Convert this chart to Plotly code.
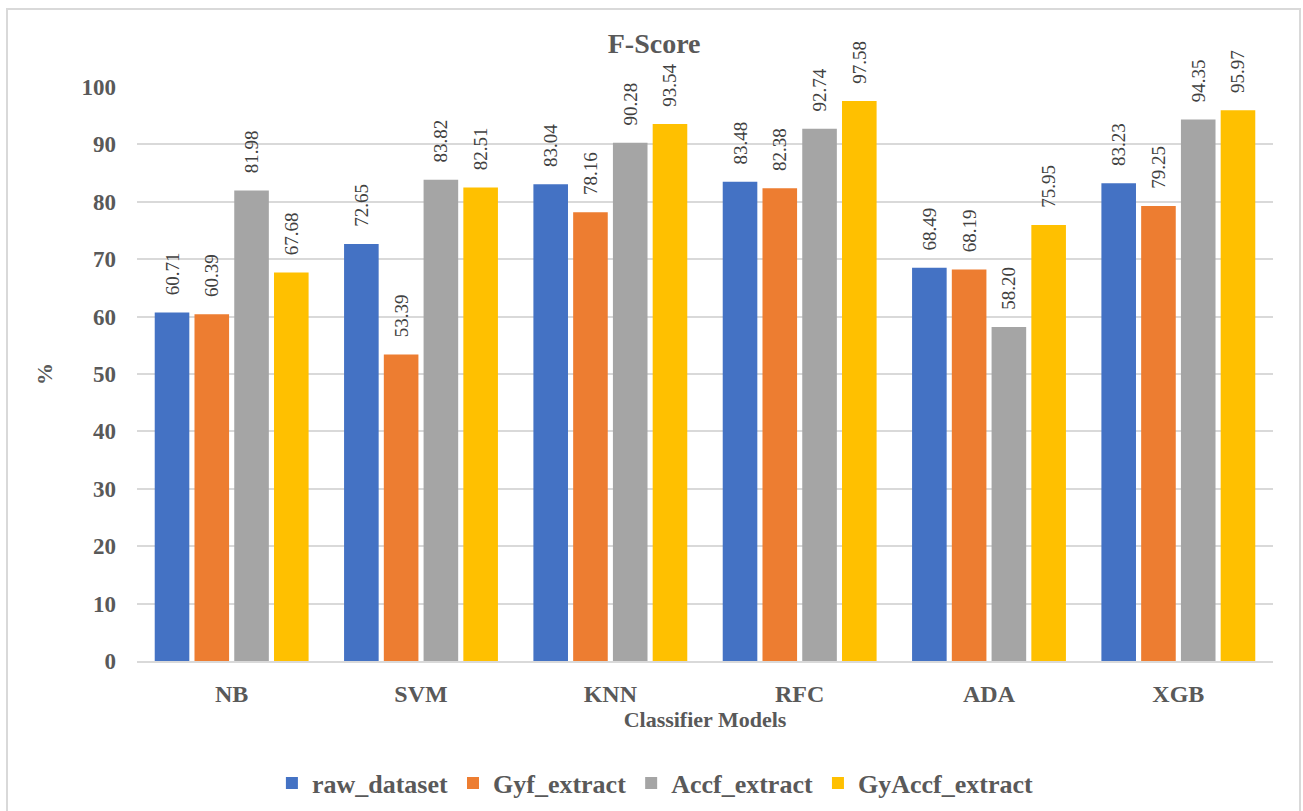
import plotly.graph_objects as go

# Classifier F-Score (%) per feature set
models = ["NB", "SVM", "KNN", "RFC", "ADA", "XGB"]
raw_dataset = [60.71, 72.65, 83.04, 83.48, 68.49, 83.23]
gyf_extract = [60.39, 53.39, 78.16, 82.38, 68.19, 79.25]
accf_extract = [81.98, 83.82, 90.28, 92.74, 58.20, 94.35]
gyaccf_extract = [67.68, 82.51, 93.54, 97.58, 75.95, 95.97]

series = [
    ("raw_dataset", raw_dataset, "#4472C4"),
    ("Gyf_extract", gyf_extract, "#ED7D31"),
    ("Accf_extract", accf_extract, "#A5A5A5"),
    ("GyAccf_extract", gyaccf_extract, "#FFC000"),
]

SERIF = "Liberation Serif"
GREY_TXT = "#595959"

fig = go.Figure()
for name, vals, color in series:
    fig.add_trace(go.Bar(
        name=f"<b>{name}</b>",
        x=models,
        y=vals,
        marker=dict(color=color, line=dict(width=0)),
        text=[f"\u00a0\u00a0\u00a0{v:.2f}" for v in vals],
        textposition="outside",
        textangle=-90,
        constraintext="none",
        cliponaxis=False,
        outsidetextfont=dict(family=SERIF, size=19, color="#404040"),
        textfont=dict(family=SERIF, size=19, color="#404040"),
    ))

fig.update_layout(
    width=1303,
    height=811,
    font=dict(family=SERIF, color=GREY_TXT),
    paper_bgcolor="white",
    plot_bgcolor="white",
    barmode="group",
    bargap=0.16,
    bargroupgap=0.13,
    margin=dict(l=137, r=30, t=87, b=150),
    title=dict(
        text="<b>F-Score</b>",
        font=dict(family=SERIF, size=28, color=GREY_TXT),
        xref="container", x=0.502, xanchor="center",
        yref="container", y=1 - 43 / 811, yanchor="middle",
    ),
    xaxis=dict(
        showgrid=False,
        showline=True,
        linecolor="#d9d9d9",
        linewidth=2,
        ticks="",
        ticklabelstandoff=10,
        tickfont=dict(family=SERIF, size=24, color=GREY_TXT),
        tickprefix="<b>", ticksuffix="</b>",
        title=dict(
            text="<b>Classifier Models</b>",
            font=dict(family=SERIF, size=22, color=GREY_TXT),
            standoff=4,
        ),
    ),
    yaxis=dict(
        range=[0, 100],
        dtick=10,
        showgrid=True,
        gridcolor="#d9d9d9",
        gridwidth=2,
        zeroline=False,
        ticks="",
        ticklabelstandoff=20,
        tickfont=dict(family=SERIF, size=23, color=GREY_TXT),
        tickprefix="<b>", ticksuffix="</b>",
        title=dict(
            text="<b>%</b>",
            font=dict(family=SERIF, size=22, color=GREY_TXT),
            standoff=22,
        ),
    ),
    legend=dict(
        orientation="h",
        xref="container", x=0.503, xanchor="center",
        yref="container", y=1 - 783 / 811, yanchor="middle",
        font=dict(family=SERIF, size=26, color=GREY_TXT),
        bgcolor="rgba(0,0,0,0)",
        itemwidth=30,
        traceorder="normal",
    ),
    showlegend=True,
)

# light frame around the chart (its bottom edge runs past the page)
fig.add_shape(
    type="rect",
    xref="paper", yref="paper",
    x0=(7 - 137) / 1136, x1=(1300 - 137) / 1136,
    y0=(661 - 830) / 574, y1=(661 - 9) / 574,
    line=dict(color="#d9d9d9", width=2),
    fillcolor="rgba(0,0,0,0)",
    layer="below",
)

fig.write_html("out.html")
